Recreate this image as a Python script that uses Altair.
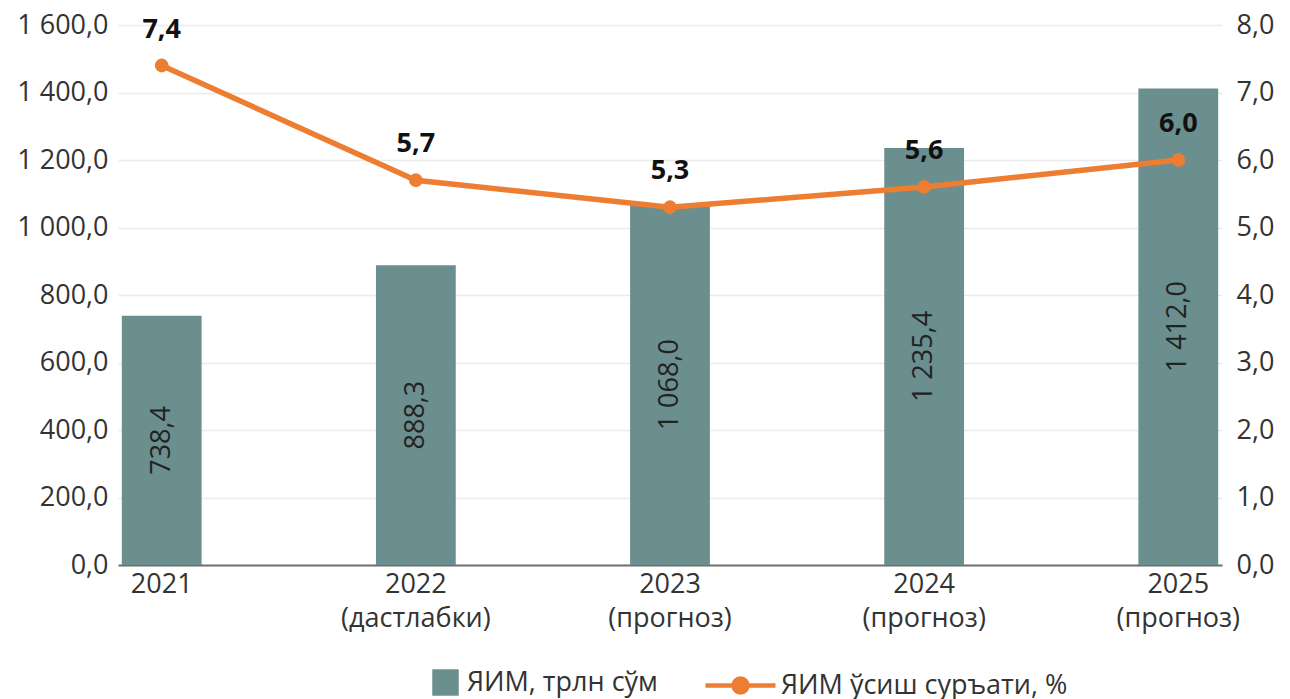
import altair as alt
import pandas as pd

categories = ["2021", "2022|(дастлабки)", "2023|(прогноз)", "2024|(прогноз)", "2025|(прогноз)"]
gdp = [738.4, 888.3, 1068.0, 1235.4, 1412.0]
growth = [7.4, 5.7, 5.3, 5.6, 6.0]
bar_series = "ЯИМ, трлн сўм"
line_series = "ЯИМ ўсиш суръати, %"

def fmt(v):
    s = f"{v:,.1f}"
    return s.replace(",", " ").replace(".", ",")

df = pd.DataFrame({
    "cat": categories,
    "gdp": gdp,
    "growth": growth,
    "gdp_lbl": [fmt(v) for v in gdp],
    "gr_lbl": [fmt(v) for v in growth],
    "s1": bar_series,
    "s2": line_series,
})

BAR = "#6B8E8E"
ORANGE = "#ED7D31"
FONT = "Open Sans"
FS = 27
lbl_expr = "replace(replace(format(datum.value, ',.1f'), ',', ' '), '.', ',')"

x = alt.X("cat:N", sort=categories, title=None,
          scale=alt.Scale(paddingInner=0.686, paddingOuter=0.015),
          axis=alt.Axis(labelAngle=0, labelExpr="split(datum.label, '|')",
                        labelFont=FONT, labelFontSize=FS, labelColor="#333333",
                        labelLineHeight=34, labelPadding=6, ticks=False,
                        domain=True, domainColor="#6F6F6F", domainWidth=2,
                        grid=False))

base = alt.Chart(df)

bars = base.mark_bar(color=BAR).encode(
    x=x,
    y=alt.Y("gdp:Q", title=None,
            scale=alt.Scale(domain=[0, 1600]),
            axis=alt.Axis(values=list(range(0, 1601, 200)), labelExpr=lbl_expr,
                          labelFont=FONT, labelFontSize=FS, labelColor="#333333",
                          labelPadding=10, ticks=False, domain=False,
                          grid=True, gridColor="#EBEBEB", gridWidth=1.5)),
    color=alt.Color("s1:N", scale=alt.Scale(domain=[bar_series], range=[BAR]),
                    legend=alt.Legend(orient="none", legendX=314, legendY=644,
                                      title=None, symbolType="square", symbolSize=700,
                                      symbolStrokeWidth=0, labelFont=FONT,
                                      labelFontSize=FS, labelColor="#333333",
                                      labelOffset=8, labelLimit=600)),
)

bar_text = base.transform_calculate(mid="datum.gdp / 2").mark_text(
    angle=270, font=FONT, fontSize=FS, color="#222222", baseline="middle", align="center"
).encode(x=x, y=alt.Y("mid:Q"), text="gdp_lbl:N")

left = alt.layer(bars, bar_text)

yr = alt.Y("growth:Q", title=None, scale=alt.Scale(domain=[0, 8]),
           axis=alt.Axis(orient="right", values=list(range(0, 9)), labelExpr=lbl_expr,
                         labelFont=FONT, labelFontSize=FS, labelColor="#333333",
                         labelPadding=14, ticks=False, domain=False, grid=False))

line = base.mark_line(strokeWidth=5.5).encode(
    x=x, y=yr,
    stroke=alt.Stroke("s2:N", scale=alt.Scale(domain=[line_series], range=[ORANGE]),
                      legend=alt.Legend(orient="none", legendX=606, legendY=644,
                                        title=None,
                                        symbolType="M-2.5,0L2.5,0M-0.5,0A0.5,0.5,0,1,0,0.5,0A0.5,0.5,0,1,0,-0.5,0Z",
                                        symbolSize=784, symbolStrokeWidth=4.5,
                                        symbolFillColor=ORANGE,
                                        labelFont=FONT, labelFontSize=FS,
                                        labelColor="#333333", labelOffset=24,
                                        labelLimit=600)),
)
pts = base.mark_point(filled=True, size=190, color=ORANGE, opacity=1).encode(x=x, y=yr)
line_text = base.mark_text(font=FONT, fontSize=FS, fontWeight="bold", color="#111111",
                           dy=-36).encode(x=x, y=yr, text="gr_lbl:N")

right = alt.layer(line, pts, line_text)

chart = alt.layer(left, right).resolve_scale(y="independent", color="independent").properties(
    width=1104, height=540, padding={"left": 8, "top": 3, "right": 0, "bottom": 0}
).configure_view(stroke=None)

chart.save("out.html", embed_options={"renderer": "svg", "actions": False})
